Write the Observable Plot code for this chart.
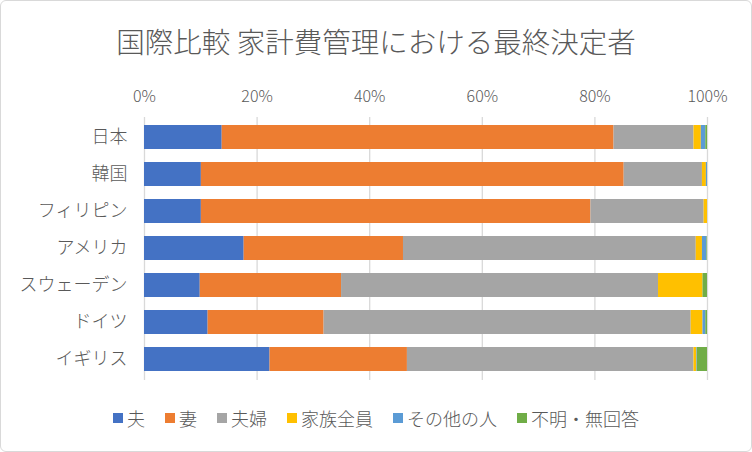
<!DOCTYPE html>
<html><head><meta charset="utf-8">
<script src="https://cdn.jsdelivr.net/npm/d3@7"></script>
<script src="https://cdn.jsdelivr.net/npm/@observablehq/plot@0.6"></script>
<style>
html,body{margin:0;padding:0;background:#fff;}
#chart{position:relative;width:752px;height:452px;box-sizing:border-box;border:1px solid #d9d9d9;border-radius:6px;font-family:"Noto Sans CJK JP","Noto Sans",sans-serif;font-weight:300;color:#595959;overflow:hidden;background:#fff}
#title{height:49px;padding-top:20px;line-height:40px;font-size:28.5px;text-align:center;white-space:nowrap}
#plot svg{display:block}
#legend{margin-top:16px;height:24px;line-height:24px;display:flex;justify-content:center;gap:20px;font-size:18px;white-space:nowrap}
#legend .item{display:flex;align-items:center;gap:4px}
#legend .sw{width:10px;height:10px;display:inline-block}
</style>
</head><body>
<div id="chart">
  <div id="title">国際比較 家計費管理における最終決定者</div>
  <div id="plot"></div>
  <div id="legend"></div>
</div>
<script>
const countries = ["日本","韓国","フィリピン","アメリカ","スウェーデン","ドイツ","イギリス"];
const series = ["夫","妻","夫婦","家族全員","その他の人","不明・無回答"];
const colors = ["#4472C4","#ED7D31","#A5A5A5","#FFC000","#5B9BD5","#70AD47"];
const husband = [13.8,10.1,10.1,17.7,9.9,11.3,22.3];
const wife    = [69.6,75.1,69.2,28.3,25.1,20.6,24.4];
const couple  = [14.2,13.9,20.1,52.0,56.3,65.2,50.9];
const family  = [1.3,0.7,0.6,1.1,7.9,2.1,0.5];
const other   = [0.8,0.2,0.0,0.8,0.0,0.5,0.1];
const unknown = [0.3,0.0,0.0,0.1,0.8,0.3,1.8];
const xTicks = [0,20,40,60,80,100];

const seriesValues = [husband, wife, couple, family, other, unknown];
const data = [];
series.forEach((s, si) => {
  countries.forEach((c, ci) => {
    data.push({country: c, series: s, value: seriesValues[si][ci]});
  });
});

const chart = Plot.plot({
  width: 750,
  height: 320,
  marginTop: 47,
  marginBottom: 10,
  marginLeft: 143,
  marginRight: 44,
  style: {fontFamily: '"Noto Sans CJK JP","Noto Sans",sans-serif', fontWeight: 300, color: "#595959", background: "#fff"},
  x: {domain: [0, 100]},
  y: {domain: countries, paddingInner: 0.34, paddingOuter: 0.17},
  color: {domain: series, range: colors},
  marks: [
    Plot.gridX(xTicks, {stroke: "#d9d9d9", strokeOpacity: 1, strokeWidth: 1.3}),
    Plot.barX(data, {x: "value", y: "country", fill: "series", order: series}),
    Plot.axisX({anchor: "top", ticks: xTicks, tickFormat: d => d + "%", tickSize: 0, tickPadding: 16, label: null, fontSize: 16}),
    Plot.axisY({tickSize: 0, tickPadding: 17, label: null, fontSize: 18})
  ]
});
document.getElementById("plot").appendChild(chart);

const legend = document.getElementById("legend");
series.forEach((s, i) => {
  const item = document.createElement("span");
  item.className = "item";
  const sw = document.createElement("span");
  sw.className = "sw";
  sw.style.background = colors[i];
  const t = document.createElement("span");
  t.textContent = s;
  item.appendChild(sw);
  item.appendChild(t);
  legend.appendChild(item);
});
</script>
</body></html>
